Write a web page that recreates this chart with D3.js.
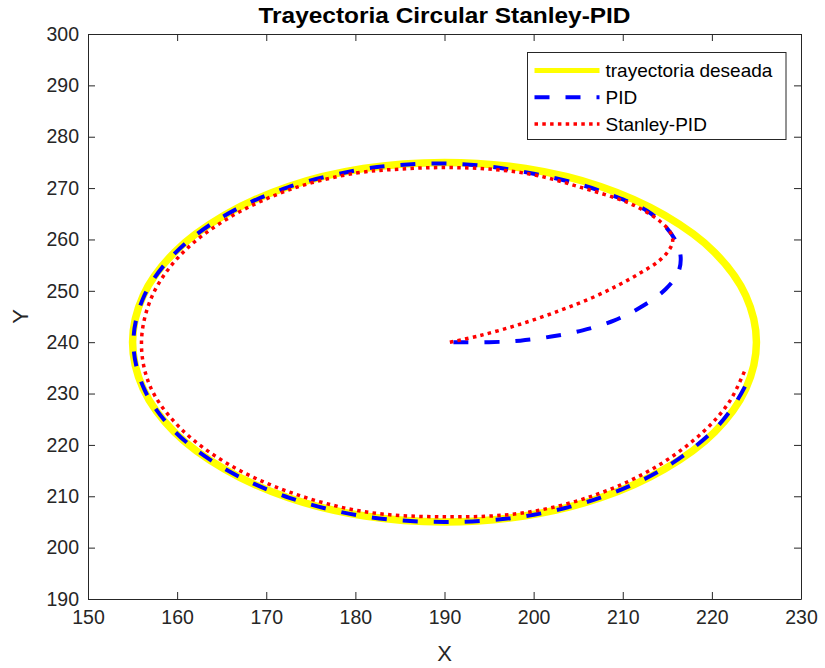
<html>

<head>
    <script src="https://d3js.org/d3.v7.min.js"></script>
    <style>
        body { margin: 0; background: #fff; }
        text { font-family: "Liberation Sans", Arial, Helvetica, sans-serif; fill: #262626; }
    </style>
</head>

<body></body>
<script>

    // tick labels
    var xTicks = [150, 160, 170, 180, 190, 200, 210, 220, 230];
    var yTicks = [190, 200, 210, 220, 230, 240, 250, 260, 270, 280, 290, 300];

    // trayectoria deseada, closed loop
    var desX = [225, 223.8, 220.3, 214.7, 207.5, 199.1, 190, 180.9, 172.5, 165.3, 159.7, 156.2, 155,
        156.2, 159.7, 165.3, 172.5, 180.9, 190, 199.1, 207.5, 214.7, 220.3, 223.8];
    var desY = [240, 249.1, 257.5, 264.7, 270.3, 273.8, 275, 273.8, 270.3, 264.7, 257.5, 249.1, 240,
        230.9, 222.5, 215.3, 209.7, 206.2, 205, 206.2, 209.7, 215.3, 222.5, 230.9];

    // PID
    var pidX = [191, 195, 198.5, 202, 205.5, 209, 212, 214.8, 216.2, 216.5, 216, 214.8, 212.7, 209, 205,
        200, 195, 190, 185, 180.9, 172.5, 165.3, 159.8, 156.3, 155.1, 156.3, 159.8, 165.4, 172.6, 181,
        190, 199, 207.4, 214.5, 220, 222.6, 224.5];
    var pidY = [240, 240, 240.3, 241.1, 242.3, 244.2, 246.8, 250.3, 253.5, 256.5, 259.5, 262.5, 265.6, 268.5, 270.8,
        272.8, 274.2, 274.8, 274.5, 273.7, 270.2, 264.6, 257.4, 249, 240, 230.9, 222.5, 215.3, 209.7, 206.1,
        205, 206.1, 209.7, 215.3, 222.5, 228, 234];

    // Stanley-PID
    var stX = [190.6, 194, 198.5, 203, 206.5, 209.5, 212, 213.9, 215.1, 215.6, 215.3, 214.2, 212.5,
        210.4, 205, 200, 195, 190, 185, 180, 172.8, 165.8, 160.5, 157.2, 156, 157, 160.4, 165.8,
        172.8, 181, 190, 199, 207, 213.8, 219, 222, 223.7];
    var stY = [240, 241.3, 243.5, 246.2, 248.6, 251.1, 253.5, 255.6, 257.7, 259.6, 261.5, 263.5, 265.5,
        267.3, 270.3, 272.6, 273.7, 274, 273.7, 272.9, 269.8, 264.2, 257.2, 249, 240, 231.3, 223.2, 216.2,
        210.7, 207, 206, 206.8, 210.3, 215.8, 222.5, 228.5, 234.5];

    var series = [
        { name: "trayectoria deseada", xs: desX, ys: desY, color: "#ffff00", w: 7.5, dash: null, closed: true },
        { name: "PID", xs: pidX, ys: pidY, color: "#0000ff", w: 4, dash: "15,16", closed: false },
        { name: "Stanley-PID", xs: stX, ys: stY, color: "#ff0000", w: 3.5, dash: "3.5,4.3", closed: false }
    ];

    // set the dimensions and margins of the graph
    var margin = { top: 34, right: 24, bottom: 69, left: 88 },
        width = 825 - margin.left - margin.right,
        height = 668 - margin.top - margin.bottom;

    var svg = d3.select("body")
        .append("svg")
        .attr("width", 825)
        .attr("height", 668)
        .append("g")
        .attr("transform", "translate(" + margin.left + "," + margin.top + ")");

    var x = d3.scaleLinear().domain([150, 230]).range([0, width]);
    var y = d3.scaleLinear().domain([190, 300]).range([height, 0]);

    // axes, ticks pointing inwards, box on
    var tk = 7;
    svg.append("g")
        .attr("transform", "translate(0," + height + ")")
        .call(d3.axisBottom(x).tickValues(xTicks).tickSizeInner(-tk).tickSizeOuter(0).tickPadding(11));
    svg.append("g")
        .call(d3.axisTop(x).tickValues(xTicks).tickSizeInner(-tk).tickSizeOuter(0).tickFormat(""));
    svg.append("g")
        .call(d3.axisLeft(y).tickValues(yTicks).tickSizeInner(-tk).tickSizeOuter(0).tickPadding(9));
    svg.append("g")
        .attr("transform", "translate(" + width + ",0)")
        .call(d3.axisRight(y).tickValues(yTicks).tickSizeInner(-tk).tickSizeOuter(0).tickFormat(""));

    svg.selectAll(".domain").attr("stroke", "#262626");
    svg.selectAll(".tick line").attr("stroke", "#262626");
    svg.selectAll(".tick text").style("font-size", "19.5px").attr("fill", "#262626");

    // curves
    var line = d3.line()
        .x(function (d) { return x(d[0]); })
        .y(function (d) { return y(d[1]); });

    series.forEach(function (s) {
        var pts = s.xs.map(function (v, i) { return [v, s.ys[i]]; });
        line.curve(s.closed ? d3.curveCatmullRomClosed : d3.curveCatmullRom);
        svg.append("path")
            .datum(pts)
            .attr("d", line)
            .attr("fill", "none")
            .attr("stroke", s.color)
            .attr("stroke-width", s.w)
            .attr("stroke-dasharray", s.dash);
    });

    // title and labels
    svg.append("text")
        .attr("x", width / 2)
        .attr("y", -11)
        .attr("text-anchor", "middle")
        .attr("textLength", 372)
        .attr("lengthAdjust", "spacingAndGlyphs")
        .style("font-size", "22px")
        .style("font-weight", "bold")
        .style("fill", "#000")
        .text("Trayectoria Circular Stanley-PID");

    svg.append("text")
        .attr("x", width / 2)
        .attr("y", height + 62)
        .attr("text-anchor", "middle")
        .style("font-size", "22px")
        .text("X");

    svg.append("text")
        .attr("transform", "rotate(-90)")
        .attr("x", -(y(240) + y(250)) / 2)
        .attr("y", -60)
        .attr("text-anchor", "middle")
        .style("font-size", "22px")
        .text("Y");

    // legend
    var lg = svg.append("g").attr("transform", "translate(" + (527.5 - margin.left) + "," + (52.5 - margin.top) + ")");
    lg.append("rect")
        .attr("width", 258.5)
        .attr("height", 87)
        .attr("fill", "#fff")
        .attr("stroke", "#262626")
        .attr("stroke-width", 1);
    series.forEach(function (s, i) {
        var cy = 18 + i * 26.8;
        lg.append("line")
            .attr("x1", 7).attr("x2", 72)
            .attr("y1", cy).attr("y2", cy)
            .attr("stroke", s.color)
            .attr("stroke-width", i == 0 ? 5 : s.w)
            .attr("stroke-dasharray", s.dash);
        lg.append("text")
            .attr("x", 78)
            .attr("y", cy)
            .attr("dy", "0.35em")
            .style("font-size", "19px")
            .style("fill", "#000")
            .text(s.name);
    });

</script>

</html>
